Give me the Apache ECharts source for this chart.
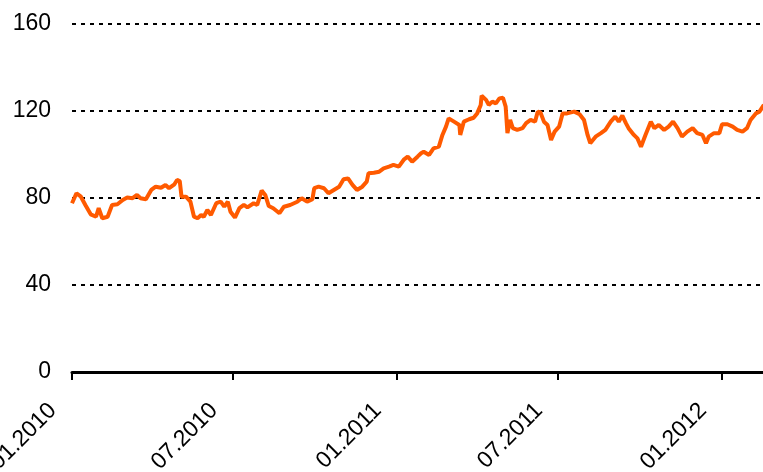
<html>
<head>
	<meta charset="utf-8">
</head>
<body style="margin:0">
	<div id="main" style="width:763px;height:472px;"></div>
	<script src="https://cdn.jsdelivr.net/npm/echarts@6/dist/echarts.min.js"></script>
	<script>
		// start of series, each point is days after this date
		var startDate = [2010, 0, 1];
		var endDate = [2012, 1, 16];
		var dayOffsets = [0, 5, 10, 15, 21, 27, 30, 34, 40, 45, 51, 57, 62, 68, 73, 77, 83, 89, 94, 100,
			105, 109, 115, 118, 121, 123, 128, 133, 137, 141, 145, 148, 152, 156, 162, 167, 171, 175, 178, 183,
			188, 193, 197, 204, 208, 213, 217, 221, 226, 233, 238, 245, 253, 258, 264, 270, 272, 277, 283, 288,
			294, 300, 305, 310, 315, 320, 326, 331, 333, 339, 345, 350, 356, 361, 367, 373, 377, 382, 388, 392,
			395, 401, 406, 412, 416, 420, 423, 429, 435, 436, 440, 446, 451, 455, 459, 460, 465, 468, 472, 476,
			480, 484, 487, 489, 492, 495, 500, 506, 510, 515, 520, 523, 526, 530, 534, 538, 542, 547, 551, 556,
			564, 570, 575, 579, 582, 588, 594, 599, 605, 610, 614, 618, 622, 625, 631, 635, 639, 644, 650, 654,
			659, 665, 670, 675, 680, 685, 691, 697, 702, 708, 712, 715, 721, 727, 730, 736, 742, 747, 753, 758,
			762, 768, 772, 777];
		var values = [77.6, 82.2, 80.6, 76.8, 72.5, 71.4, 75.3, 70.7, 71.4, 76.8, 77.1, 79.1, 80.2, 79.9, 81.4, 79.9, 79.4, 83.7, 85.2, 84.7,
			86.0, 84.5, 86.3, 88.3, 87.8, 80.6, 80.6, 78.3, 71.4, 70.7, 72.2, 71.4, 74.5, 72.2, 77.6, 78.3, 76.0, 78.3, 73.7, 71.0,
			75.3, 76.8, 75.7, 77.6, 76.8, 83.4, 81.4, 76.3, 75.3, 73.0, 76.0, 76.8, 78.3, 79.9, 78.3, 79.5, 84.5, 85.2, 84.5, 82.2,
			83.7, 85.2, 88.6, 89.0, 86.0, 83.7, 85.2, 87.5, 91.4, 91.6, 92.1, 93.6, 94.4, 95.2, 94.4, 97.8, 99.0, 96.7, 99.0, 100.6,
			101.3, 99.8, 102.8, 103.6, 109.0, 112.8, 116.6, 115.1, 113.6, 109.0, 115.1, 116.2, 116.9, 118.9, 122.8, 127.0, 125.1, 122.8, 124.3, 123.5,
			125.8, 126.1, 122.0, 109.8, 115.9, 112.1, 111.3, 112.1, 114.4, 115.9, 115.1, 119.7, 119.4, 115.1, 113.6, 106.7, 110.5, 112.8, 118.9, 118.9,
			119.7, 118.5, 115.9, 109.0, 105.2, 108.2, 109.8, 111.3, 115.1, 117.4, 115.1, 117.9, 114.4, 112.1, 109.0, 107.4, 103.6, 109.0, 115.1, 112.1,
			113.6, 111.3, 112.8, 115.1, 112.1, 108.2, 110.5, 112.1, 109.8, 109.0, 105.2, 108.2, 109.8, 109.8, 113.9, 113.9, 112.8, 111.3, 110.5, 112.1,
			115.9, 118.9, 119.7, 122.8];
		// x tick positions (year, month) and their labels
		var tickMonths = [[2010, 0], [2010, 6], [2011, 0], [2011, 6], [2012, 0]];
		var tickLabels = ['01.2010', '07.2010', '01.2011', '07.2011', '01.2012'];
		var yTicks = [0, 40, 80, 120, 160];

		var DAY = 24 * 3600 * 1000;
		var t0 = new Date(startDate[0], startDate[1], startDate[2]).getTime();
		var t1 = new Date(endDate[0], endDate[1], endDate[2]).getTime();
		var seriesData = dayOffsets.map(function (d, i) {
			return [t0 + d * DAY, values[i]];
		});
		var tickTimes = tickMonths.map(function (m) {
			return new Date(m[0], m[1], 1).getTime();
		});

		var myChart = echarts.init(document.getElementById('main'), null, { renderer: 'canvas' });
		var font = 'Liberation Sans, Arial, sans-serif';
		var option = {
			animation: false,
			backgroundColor: '#ffffff',
			grid: { left: 72, right: 0, top: 24, bottom: 100, containLabel: false, outerBoundsMode: 'none' },
			xAxis: {
				type: 'value',
				min: t0,
				max: t1,
				axisLine: { lineStyle: { color: '#000', width: 3 } },
				axisTick: {
					show: true, length: 8, lineStyle: { color: '#000', width: 2 },
					customValues: tickTimes
				},
				axisLabel: {
					customValues: tickTimes,
					rotate: 45,
					margin: 16,
					padding: [0, 27, 0, 0],
					color: '#000',
					fontSize: 23,
					fontFamily: font,
					formatter: function (v) {
						var i = tickTimes.indexOf(v);
						return i >= 0 ? tickLabels[i] : '';
					}
				},
				splitLine: { show: false }
			},
			yAxis: {
				type: 'value',
				min: yTicks[0],
				max: yTicks[yTicks.length - 1],
				interval: 40,
				axisLine: { show: false },
				axisTick: { show: false },
				axisLabel: { color: '#000', fontSize: 23, fontFamily: font, margin: 21 },
				splitLine: { lineStyle: { color: '#000', width: 2, type: [4, 5] } }
			},
			series: [{
				type: 'line',
				data: seriesData,
				showSymbol: false,
				symbol: 'none',
				lineStyle: { color: '#ff5a00', width: 4 },
				z: 3
			}]
		};
		myChart.setOption(option);
	</script>
</body>
</html>
